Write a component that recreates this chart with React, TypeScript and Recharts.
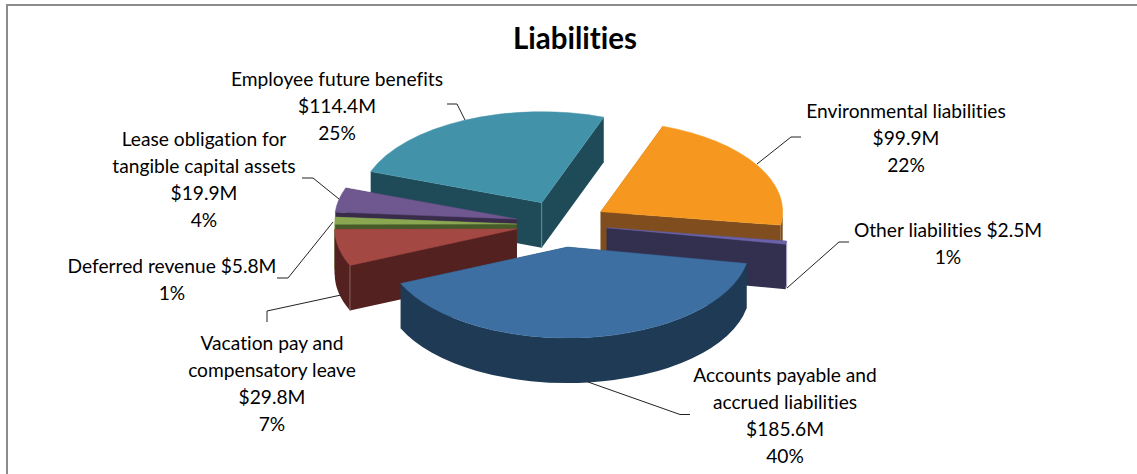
import { Pie, PieChart } from "recharts";

// Clockwise from the 160° edge of the pie
const categories = [
  "Employee future benefits",
  "Environmental liabilities",
  "Other liabilities",
  "Accounts payable and accrued liabilities",
  "Vacation pay and compensatory leave",
  "Deferred revenue",
  "Lease obligation for tangible capital assets",
];
const amounts = [114.4, 99.9, 2.5, 185.6, 29.8, 5.8, 19.9];
const percents = [25, 22, 1, 40, 7, 1, 4];

const nameLines = [
  ["Employee future benefits"],
  ["Environmental liabilities"],
  [],
  ["Accounts payable and", "accrued liabilities"],
  ["Vacation pay and", "compensatory leave"],
  [],
  ["Lease obligation for", "tangible capital assets"],
];
const inlineNames = ["", "", "Other liabilities", "", "", "Deferred revenue", ""];

const rows = categories.map((name, i) => ({
  name,
  value: amounts[i],
  percent: percents[i],
  lines: nameLines[i],
  inlineName: inlineNames[i],
}));
const rowsReversed = [...rows].reverse();

const WIDTH = 1137;
const HEIGHT = 474;
const CX = 530;
const CY = 215;
const RADIUS = 182;
const TILT = 0.5;
const DEPTH = 45;
const FONT = "Lato, 'Noto Sans', sans-serif";
const LINE_STEP = 27;

type SliceStyle = {
  top: string;
  wall: string;
  dx: number;
  dy: number;
  seam?: "apex" | "rim";
  seamColor?: string;
  labelX: number;
  labelY: number;
  leader: number[][];
};

const styles: Record<string, SliceStyle> = {
  "Employee future benefits": {
    top: "#4293A9", wall: "#1F4B58", dx: 11.7, dy: -12.3, seam: "apex", seamColor: "#5d8e9b",
    labelX: 337, labelY: 78,
    leader: [[447, 104], [457, 104], [465, 120]],
  },
  "Environmental liabilities": {
    top: "#F6981F", wall: "#7F4D1E", dx: 70.7, dy: -3.3,
    labelX: 906, labelY: 110,
    leader: [[801, 137], [791, 137], [757, 164]],
  },
  "Other liabilities": {
    top: "#6A62A8", wall: "#33304F", dx: 76.7, dy: 12.7, seam: "rim", seamColor: "#c3c0dc",
    labelX: 948, labelY: 229,
    leader: [[849, 242], [839, 242], [787, 288]],
  },
  "Accounts payable and accrued liabilities": {
    top: "#3D6FA2", wall: "#1E3A54", dx: 37.5, dy: 32,
    labelX: 785, labelY: 374,
    leader: [[588, 382], [680, 414.5], [690, 414.5]],
  },
  "Vacation pay and compensatory leave": {
    top: "#A44844", wall: "#532120", dx: -13.3, dy: 14, seam: "rim", seamColor: "#8a6462",
    labelX: 272, labelY: 342,
    leader: [[267, 322], [267, 311], [341, 295]],
  },
  "Deferred revenue": {
    top: "#8BA752", wall: "#465A2A", dx: -13.3, dy: 9, seam: "rim", seamColor: "#a9c084",
    labelX: 172, labelY: 265,
    leader: [[277, 278], [288, 278], [333, 222]],
  },
  "Lease obligation for tangible capital assets": {
    top: "#6F5790", wall: "#382C4A", dx: -13.3, dy: 4,
    labelX: 204, labelY: 138,
    leader: [[302, 178], [313, 178], [339, 199]],
  },
};

const backLayer = [categories[0], categories[1], categories[2]];

const rad = (deg: number) => (deg * Math.PI) / 180;

// Flatten a pie angle onto the tilted ellipse
const rim = (x: number, y: number, r: number, deg: number) => [
  x + r * Math.cos(rad(deg)),
  y - TILT * r * Math.sin(rad(deg)),
];

function Slice3D(props: any, layer: "back" | "front") {
  const style = styles[props.name];
  const inBack = backLayer.includes(props.name);
  if (!style || inBack !== (layer === "back")) return <g />;

  const r = props.outerRadius;
  const ax = props.cx + style.dx;
  const ay = props.cy + style.dy;
  const hi = Math.max(props.startAngle, props.endAngle);
  const lo = Math.min(props.startAngle, props.endAngle);
  const [hx, hy] = rim(ax, ay, r, hi);
  const [lx, ly] = rim(ax, ay, r, lo);
  const ry = r * TILT;
  const large = hi - lo > 180 ? 1 : 0;

  // Rim wall only exists on the part of the arc facing the viewer
  const loN = ((lo % 360) + 360) % 360;
  const hiN = loN + (hi - lo);
  const frontLo = Math.max(loN, 180);
  const frontHi = Math.min(hiN, 360);
  let rimWall = "";
  if (frontHi > frontLo) {
    const [sx, sy] = rim(ax, ay, r, frontHi);
    const [ex, ey] = rim(ax, ay, r, frontLo);
    rimWall =
      `M${sx},${sy} A${r},${ry} 0 0 1 ${ex},${ey} L${ex},${ey + DEPTH} ` +
      `A${r},${ry} 0 0 0 ${sx},${sy + DEPTH} Z`;
  }

  const sideWall = (x: number, y: number) =>
    `M${ax},${ay} L${x},${y} L${x},${y + DEPTH} L${ax},${ay + DEPTH} Z`;

  const seamX = style.seam === "apex" ? ax : hx;
  const seamY = style.seam === "apex" ? ay : hy;

  return (
    <g>
      <path d={sideWall(hx, hy)} fill={style.wall} />
      <path d={sideWall(lx, ly)} fill={style.wall} />
      {rimWall && <path d={rimWall} fill={style.wall} />}
      {style.seam && (
        <line x1={seamX} y1={seamY} x2={seamX} y2={seamY + DEPTH} stroke={style.seamColor} strokeWidth={1} />
      )}
      <path
        d={`M${ax},${ay} L${hx},${hy} A${r},${ry} 0 ${large} 1 ${lx},${ly} Z`}
        fill={style.top}
        stroke={style.top}
        strokeWidth={0.5}
      />
    </g>
  );
}

const backShape = (props: any) => Slice3D(props, "back");
const frontShape = (props: any) => Slice3D(props, "front");

function SliceLabel(props: any) {
  const style = styles[props.name];
  const row = rows.find((d) => d.name === props.name);
  if (!style || !row) return <g />;
  const amount = `$${row.value.toFixed(1)}M`;
  const lines = row.inlineName
    ? [`${row.inlineName} ${amount}`, `${row.percent}%`]
    : [...row.lines, amount, `${row.percent}%`];
  return (
    <g>
      <polyline
        points={style.leader.map((p) => p.join(",")).join(" ")}
        fill="none"
        stroke="#222"
        strokeWidth={1}
      />
      {lines.map((line, i) => (
        <text
          key={i}
          x={style.labelX}
          y={style.labelY + i * LINE_STEP}
          textAnchor="middle"
          dominantBaseline="central"
          fontFamily={FONT}
          fontSize={19.2}
          fill="#000"
          style={{ fontVariantLigatures: "none" }}
        >
          {line}
        </text>
      ))}
    </g>
  );
}

export default function App() {
  return (
    <div style={{ position: "absolute", left: 0, top: 0, width: WIDTH, height: HEIGHT, background: "#fff" }}>
      <div style={{ position: "absolute", left: 6, top: 4, right: 0, height: 2, background: "#8c8c8c" }} />
      <div style={{ position: "absolute", left: 6, top: 4, bottom: 0, width: 2, background: "#8c8c8c" }} />
      <PieChart width={WIDTH} height={HEIGHT} margin={{ top: 0, right: 0, bottom: 0, left: 0 }}>
        <Pie
          data={rows}
          dataKey="value"
          nameKey="name"
          cx={CX}
          cy={CY}
          outerRadius={RADIUS}
          startAngle={160}
          endAngle={-200}
          shape={backShape}
          inactiveShape={backShape}
          activeShape={backShape}
          labelLine={false}
          label={false}
          isAnimationActive={false}
        />
        {/* same slices walked the other way, so nearer ones paint last */}
        <Pie
          data={rowsReversed}
          dataKey="value"
          nameKey="name"
          cx={CX}
          cy={CY}
          outerRadius={RADIUS}
          startAngle={160}
          endAngle={520}
          shape={frontShape}
          inactiveShape={frontShape}
          activeShape={frontShape}
          labelLine={false}
          label={SliceLabel}
          isAnimationActive={false}
        />
        <text
          x={575}
          y={37}
          textAnchor="middle"
          dominantBaseline="central"
          fontFamily={FONT}
          fontSize={29.5}
          fontWeight={700}
          fill="#000"
          style={{ fontVariantLigatures: "none" }}
        >
          Liabilities
        </text>
      </PieChart>
    </div>
  );
}
